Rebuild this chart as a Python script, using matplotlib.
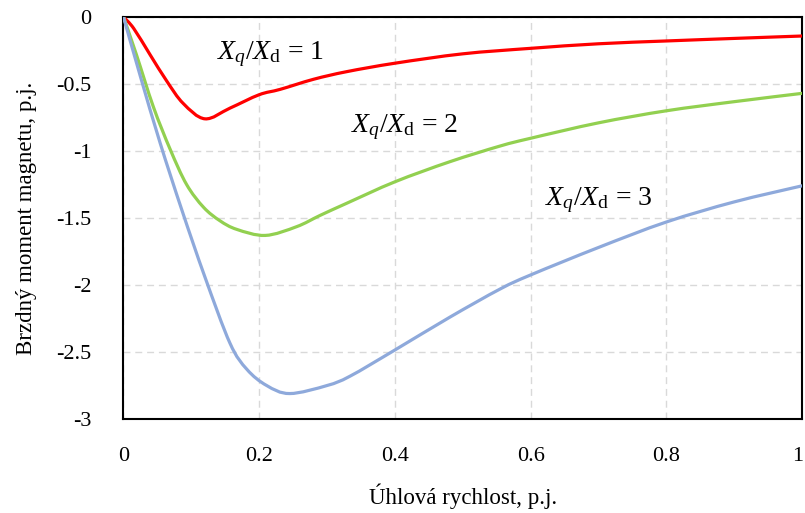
import matplotlib
matplotlib.use("Agg")
import matplotlib.pyplot as plt
from matplotlib.path import Path
from matplotlib.patches import PathPatch
from matplotlib.transforms import ScaledTranslation

plt.rcParams['font.family'] = ['Liberation Serif', 'DejaVu Serif']
plt.rcParams['mathtext.fontset'] = 'custom'
plt.rcParams['mathtext.rm'] = 'Liberation Serif'
plt.rcParams['mathtext.it'] = 'Liberation Serif:italic'

# Data
x_r1 = [0, 0.015, 0.039, 0.064, 0.088, 0.12, 0.157, 0.2, 0.231, 0.28, 0.329,
        0.40, 0.50, 0.60, 0.70, 0.80, 0.90, 1.0]
y_r1 = [0, -0.085, -0.28, -0.48, -0.645, -0.76, -0.68, -0.58, -0.54, -0.465, -0.408,
        -0.345, -0.275, -0.234, -0.20, -0.179, -0.16, -0.142]

x_r2 = [0, 0.019, 0.044, 0.069, 0.093, 0.118, 0.142, 0.167, 0.209, 0.255, 0.29,
        0.329, 0.40, 0.481, 0.555, 0.60, 0.70, 0.80, 0.90, 1.0]
y_r2 = [0, -0.28, -0.67, -0.99, -1.25, -1.42, -1.52, -1.585, -1.63, -1.565, -1.48,
        -1.39, -1.23, -1.08, -0.963, -0.905, -0.79, -0.70, -0.632, -0.57]

x_r3 = [0, 0.025, 0.054, 0.086, 0.12, 0.157, 0.182, 0.211, 0.245, 0.30, 0.334,
        0.40, 0.481, 0.555, 0.60, 0.70, 0.80, 0.90, 1.0]
y_r3 = [0, -0.445, -0.94, -1.44, -1.94, -2.435, -2.63, -2.75, -2.81, -2.75, -2.68,
        -2.485, -2.24, -2.03, -1.925, -1.72, -1.53, -1.38, -1.26]

labels = [r'$X_q/X_\mathrm{d}$ = 1', r'$X_q/X_\mathrm{d}$ = 2', r'$X_q/X_\mathrm{d}$ = 3']
label_pos = [(0.216, -0.28), (0.415, -0.82), (0.70, -1.37)]

x_ticks = [0, 0.2, 0.4, 0.6, 0.8, 1]
x_ticklabels = ['0', '0.2', '0.4', '0.6', '0.8', '1']
y_ticks = [0, -0.5, -1, -1.5, -2, -2.5, -3]
y_ticklabels = ['0', '-0.5', '-1', '-1.5', '-2', '-2.5', '-3']


def smooth_path(xs, ys, tension=1/6):
    """Excel-style smoothed line: cubic Bezier segments through the data points."""
    pts = list(zip(xs, ys))
    n = len(pts)
    verts = [pts[0]]
    codes = [Path.MOVETO]
    for i in range(n - 1):
        p0 = pts[i - 1] if i > 0 else pts[i]
        p1 = pts[i]
        p2 = pts[i + 1]
        p3 = pts[i + 2] if i + 2 < n else pts[i + 1]
        c1 = (p1[0] + (p2[0] - p0[0]) * tension, p1[1] + (p2[1] - p0[1]) * tension)
        c2 = (p2[0] - (p3[0] - p1[0]) * tension, p2[1] - (p3[1] - p1[1]) * tension)
        verts += [c1, c2, p2]
        codes += [Path.CURVE4] * 3
    return Path(verts, codes)


fig = plt.figure(figsize=(8.05, 5.13), dpi=100)
ax = fig.add_axes([0.1534, 0.1832, 0.8429, 0.7837])

for xs, ys, col in [(x_r1, y_r1, '#FF0000'), (x_r2, y_r2, '#92D050'), (x_r3, y_r3, '#8EA9DB')]:
    patch = PathPatch(smooth_path(xs, ys), facecolor='none', edgecolor=col,
                      lw=2.3, capstyle='round', joinstyle='round', zorder=3)
    ax.add_patch(patch)

for lab, (lx, ly) in zip(labels, label_pos):
    ax.text(lx, ly, lab, fontsize=20, ha='center', va='center', zorder=4)

ax.set_xlim(0, 1)
ax.set_ylim(-3, 0)
ax.set_xticks(x_ticks)
ax.set_xticklabels(x_ticklabels)
ax.set_yticks(y_ticks)
ax.set_yticklabels(y_ticklabels)
ax.tick_params(axis='both', length=0, labelsize=16)
ax.tick_params(axis='x', pad=20)
ax.tick_params(axis='y', pad=23)

# keep the last x tick label inside the figure edge
last = ax.get_xticklabels()[-1]
last.set_transform(last.get_transform() + ScaledTranslation(-4 / 100, 0, fig.dpi_scale_trans))

ax.grid(True, color='#d9d9d9', linestyle=(0, (5, 3.5)), linewidth=1.0, zorder=0)
ax.set_axisbelow(True)
for s in ax.spines.values():
    s.set_color('black')
    s.set_linewidth(1.5)

ax.set_xlabel('Úhlová rychlost, p.j.', fontsize=16.5, labelpad=13)
ax.set_ylabel('Brzdný moment magnetu, p.j.', fontsize=16.5, labelpad=14)

fig.savefig('out.png', dpi=100)
